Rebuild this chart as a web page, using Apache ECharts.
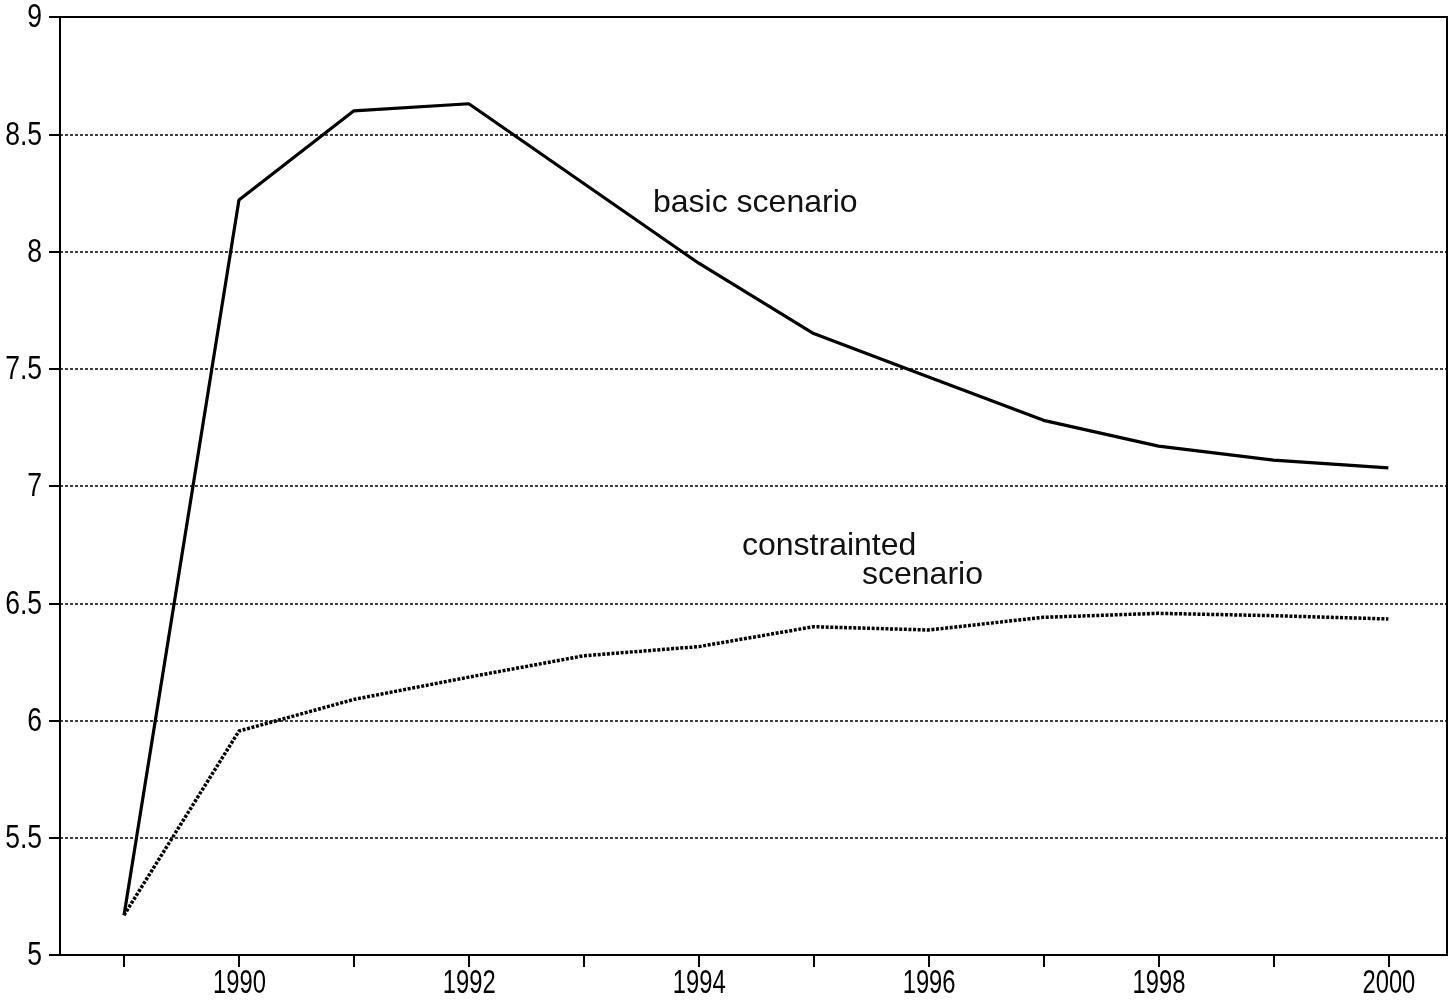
<!DOCTYPE html>
<html>
<head>
<meta charset="utf-8">
<script src="https://cdn.jsdelivr.net/npm/echarts@6/dist/echarts.min.js"></script>
<style>
  html, body { margin: 0; padding: 0; background: #fff; }
  #chart { width: 1453px; height: 1003px; }
</style>
</head>
<body>
<div id="chart"></div>
<script>
// ---- data ----
const years = [1989, 1990, 1991, 1992, 1993, 1994, 1995, 1996, 1997, 1998, 1999, 2000];
const basicScenario = [5.17, 8.22, 8.60, 8.63, 8.29, 7.95, 7.65, 7.465, 7.28, 7.17, 7.11, 7.077];
const constrainedScenario = [5.17, 5.955, 6.09, 6.185, 6.276, 6.315, 6.40, 6.386, 6.44, 6.457, 6.447, 6.433];
const xTickYears = [1989, 1990, 1991, 1992, 1993, 1994, 1995, 1996, 1997, 1998, 1999, 2000];
const xLabelYears = [1990, 1992, 1994, 1996, 1998, 2000];
const yTickValues = [5, 5.5, 6, 6.5, 7, 7.5, 8, 8.5, 9];
const yTickLabels = ['5', '5.5', '6', '6.5', '7', '7.5', '8', '8.5', '9'];
const yMin = 5, yMax = 9, yStep = 0.5;
const labelBasic = 'basic scenario';
const labelConstrained1 = 'constrainted';
const labelConstrained2 = 'scenario';

const axisFont = '"Liberation Sans", Arial, sans-serif';
const textFont = '"Liberation Sans", Arial, sans-serif';
const narrow = 0.7;

const chart = echarts.init(document.getElementById('chart'), null, { renderer: 'canvas' });

const option = {
  animation: false,
  backgroundColor: '#fff',
  grid: {
    left: 60, right: 6, top: 17, bottom: 48,
    outerBoundsMode: 'none',
    containLabel: false,
    show: true, borderColor: '#000', borderWidth: 2, backgroundColor: 'transparent'
  },
  xAxis: {
    type: 'value',
    min: 1988.443,
    max: 2000.51,
    axisLine: { show: true, lineStyle: { color: '#000', width: 2 } },
    axisTick: {
      show: true, length: 12, inside: false,
      customValues: xTickYears,
      lineStyle: { color: '#000', width: 2 }
    },
    axisLabel: { show: false },
    splitLine: { show: false }
  },
  yAxis: {
    type: 'value',
    min: yMin,
    max: yMax,
    interval: yStep,
    axisLine: { show: true, lineStyle: { color: '#000', width: 2 } },
    axisTick: { show: true, length: 11, inside: false, lineStyle: { color: '#000', width: 2 } },
    axisLabel: { show: false },
    splitLine: {
      show: true,
      lineStyle: { color: '#000', width: 1.5, type: [3, 2] }
    }
  },
  series: [
    {
      name: labelBasic,
      type: 'line',
      data: years.map((y, i) => [y, basicScenario[i]]),
      symbol: 'none',
      lineStyle: { color: '#000', width: 3.2, type: 'solid' },
      z: 5
    },
    {
      name: labelConstrained1 + ' ' + labelConstrained2,
      type: 'line',
      data: years.map((y, i) => [y, constrainedScenario[i]]),
      symbol: 'none',
      lineStyle: { color: '#000', width: 3.5, type: [3, 1.6] },
      z: 5
    }
  ]
};

chart.setOption(option);

// Narrow plotter-style axis labels, placed through the axis scales
const graphics = [];
xLabelYears.forEach(yr => {
  const p = chart.convertToPixel({ gridIndex: 0 }, [yr, yMin]);
  graphics.push({
    type: 'text', x: p[0] + 0.5, y: p[1] + 12, scaleX: narrow,
    style: { text: String(yr), font: '34px ' + axisFont, fill: '#000', align: 'center', verticalAlign: 'top' },
    silent: true
  });
});
yTickValues.forEach((v, i) => {
  const p = chart.convertToPixel({ gridIndex: 0 }, [1988.443, v]);
  graphics.push({
    type: 'text', x: p[0] - 18, y: p[1] + 1, scaleX: narrow + 0.08,
    style: { text: yTickLabels[i], font: '34px ' + axisFont, fill: '#000', align: 'right', verticalAlign: 'middle' },
    silent: true
  });
});
graphics.push(
  { type: 'text', left: 653, top: 187, style: { text: labelBasic, font: '32px ' + textFont, fill: '#111' } },
  { type: 'text', left: 742, top: 530, style: { text: labelConstrained1, font: '32px ' + textFont, fill: '#111' } },
  { type: 'text', left: 862, top: 559, style: { text: labelConstrained2, font: '32px ' + textFont, fill: '#111' } }
);
chart.setOption({ graphic: graphics });
</script>
</body>
</html>
